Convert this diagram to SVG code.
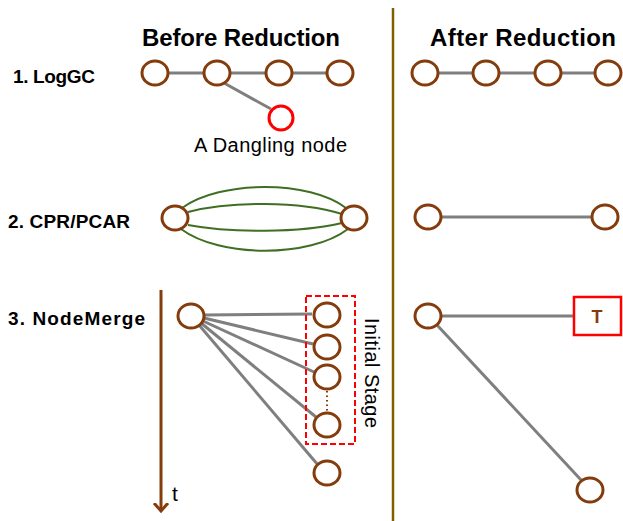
<svg xmlns="http://www.w3.org/2000/svg" width="623" height="521" viewBox="0 0 623 521">
<defs>
<style>
.n{fill:#fff;stroke:#843c0c;stroke-width:3}
.d{fill:#fff;stroke:#ff0000;stroke-width:3}
.e{stroke:#7f7f7f;stroke-width:3;fill:none}
.g{stroke:#3f6f22;stroke-width:2;fill:none}
.t{font-family:"Liberation Sans",Arial,sans-serif;font-weight:bold;fill:#000}
.r{font-family:"Liberation Sans",Arial,sans-serif;fill:#000}
</style>
<marker id="ah" markerWidth="10" markerHeight="16" refX="8" refY="8" orient="auto" markerUnits="userSpaceOnUse" viewBox="0 0 10 16">
<path d="M0,1 L8,8 L0,15" fill="none" stroke="#843c0c" stroke-width="3"/>
</marker>
</defs>
<rect width="623" height="521" fill="#fff"/>
<g id="titles">
<text class="t" x="142" y="46" font-size="24" textLength="198">Before Reduction</text>
<text class="t" x="430" y="46" font-size="24" textLength="186">After Reduction</text>
<text class="t" x="13" y="83" font-size="19" textLength="82">1. LogGC</text>
<text class="t" x="8" y="228" font-size="19" textLength="122">2. CPR/PCAR</text>
<text class="t" x="8" y="325" font-size="19" textLength="137">3. NodeMerge</text>
</g>
<line id="divider" x1="393" y1="8" x2="393" y2="521" stroke="#7f6000" stroke-width="2.5"/>
<g id="connectors">
<line class="e" x1="168" y1="73" x2="203" y2="73"/>
<line class="e" x1="230" y1="73" x2="266" y2="73"/>
<line class="e" x1="292" y1="73" x2="327" y2="73"/>
<line class="e" x1="224" y1="83" x2="271" y2="109"/>
<line class="e" x1="438" y1="73" x2="473" y2="73"/>
<line class="e" x1="499" y1="73" x2="535" y2="73"/>
<line class="e" x1="561" y1="73" x2="595" y2="73"/>
<path class="g" d="M182,208 C220,180 310,180 346,208"/>
<path class="g" d="M188,212 C230,201 300,201 342,214"/>
<path class="g" d="M188,225 C230,233 300,233 342,223"/>
<path class="g" d="M181,229 C220,258 310,258 348,229"/>
<line class="e" x1="441" y1="217" x2="591" y2="217"/>
<line class="e" x1="204" y1="315" x2="312" y2="314"/>
<line class="e" x1="204" y1="318" x2="313" y2="344"/>
<line class="e" x1="203" y1="321" x2="314" y2="372"/>
<line class="e" x1="201" y1="323" x2="316" y2="417"/>
<line class="e" x1="199" y1="325" x2="318" y2="465"/>
<line class="e" x1="441" y1="316" x2="573" y2="316"/>
<line class="e" x1="437" y1="325" x2="582" y2="481"/>
<line x1="161" y1="290" x2="161" y2="511" stroke="#843c0c" stroke-width="3" marker-end="url(#ah)"/>
</g>
<g id="loggc-before">
<ellipse class="n" cx="155" cy="73" rx="13" ry="12"/>
<ellipse class="n" cx="217" cy="73" rx="13" ry="12"/>
<ellipse class="n" cx="279" cy="73" rx="13" ry="12"/>
<ellipse class="n" cx="340" cy="73" rx="13" ry="12"/>
</g>
<g id="dangling">
<ellipse class="d" cx="281" cy="118" rx="12" ry="12"/>
<text class="r" x="194" y="152" font-size="20" textLength="153">A Dangling node</text>
</g>
<g id="loggc-after">
<ellipse class="n" cx="425" cy="73" rx="13" ry="12"/>
<ellipse class="n" cx="486" cy="73" rx="13" ry="12"/>
<ellipse class="n" cx="548" cy="73" rx="13" ry="12"/>
<ellipse class="n" cx="608" cy="73" rx="13" ry="12"/>
</g>
<g id="cpr-before">
<ellipse class="n" cx="175" cy="218" rx="13" ry="12"/>
<ellipse class="n" cx="354" cy="218" rx="13" ry="12"/>
</g>
<g id="cpr-after">
<ellipse class="n" cx="428" cy="217" rx="13" ry="12"/>
<ellipse class="n" cx="605" cy="217" rx="13" ry="12"/>
</g>
<g id="nodemerge-before">
<ellipse class="n" cx="191" cy="316" rx="13" ry="12"/>
<rect x="306" y="296" width="49" height="148" fill="none" stroke="#ff0000" stroke-width="2" stroke-dasharray="6,3"/>
<ellipse class="n" cx="327" cy="315" rx="13" ry="12"/>
<ellipse class="n" cx="327" cy="347" rx="13" ry="12"/>
<ellipse class="n" cx="327" cy="377" rx="13" ry="12"/>
<line x1="327" y1="391" x2="327" y2="411" stroke="#843c0c" stroke-width="2" stroke-dasharray="1.5,3"/>
<ellipse class="n" cx="327" cy="425" rx="13" ry="12"/>
<ellipse class="n" cx="327" cy="473" rx="13" ry="12"/>
<text class="r" transform="translate(365,318) rotate(90)" font-size="20" textLength="110">Initial Stage</text>
<text class="r" x="172" y="501" font-size="21">t</text>
</g>
<g id="nodemerge-after">
<ellipse class="n" cx="428" cy="316" rx="13" ry="12"/>
<rect x="574" y="297" width="47" height="38" fill="#fff" stroke="#ff0000" stroke-width="2.5"/>
<text class="t" x="597" y="323" font-size="18" text-anchor="middle" style="fill:#843c0c">T</text>
<ellipse class="n" cx="590" cy="490" rx="13" ry="12"/>
</g>
</svg>
